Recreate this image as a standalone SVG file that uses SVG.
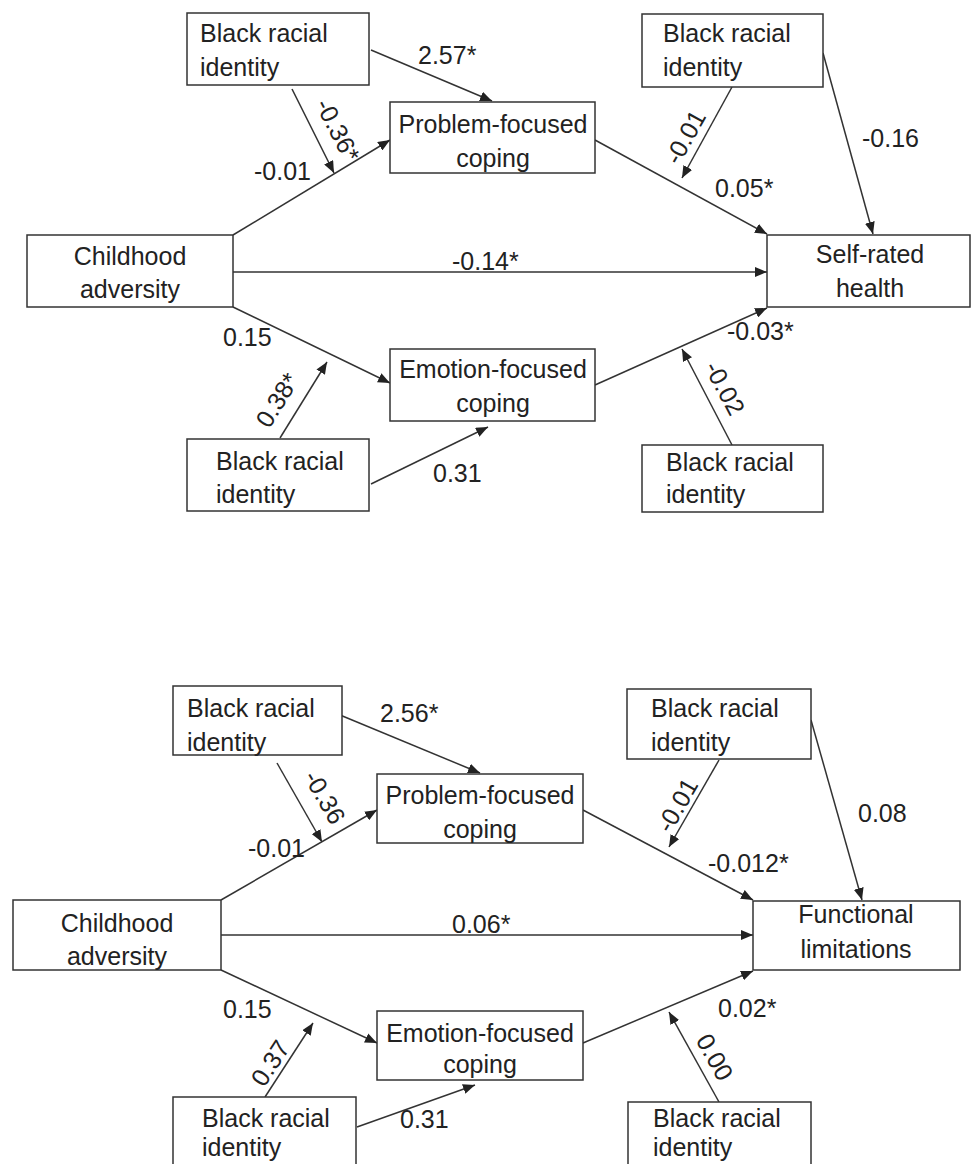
<svg xmlns="http://www.w3.org/2000/svg" width="972" height="1164" viewBox="0 0 972 1164">
<style>
.box{fill:#fff;stroke:#333;stroke-width:1.5}
.t{font-family:"Liberation Sans",Arial,sans-serif;font-size:25px;fill:#222}
.c{text-anchor:middle}
.e{stroke:#333;stroke-width:1.5;fill:none;marker-end:url(#ah)}
</style>
<defs>
<marker id="ah" markerUnits="userSpaceOnUse" markerWidth="12" markerHeight="10" refX="12" refY="5" orient="auto">
<path d="M0,0 L12,5 L0,10 z" fill="#222"/>
</marker>
</defs>
<rect width="972" height="1164" fill="#fff"/>

<g id="connectors">
<!-- top diagram -->
<line class="e" x1="371" y1="50" x2="492" y2="101"/>
<line class="e" x1="292" y1="89" x2="334" y2="173"/>
<line class="e" x1="233" y1="235" x2="390" y2="140"/>
<line class="e" x1="233" y1="272" x2="767" y2="272"/>
<line class="e" x1="595" y1="140" x2="767" y2="234"/>
<line class="e" x1="732" y1="87" x2="682" y2="178"/>
<line class="e" x1="823" y1="53" x2="873" y2="234"/>
<line class="e" x1="233" y1="307" x2="390" y2="383"/>
<line class="e" x1="280" y1="438" x2="327" y2="362"/>
<line class="e" x1="371" y1="484" x2="488" y2="427"/>
<line class="e" x1="595" y1="385" x2="767" y2="308"/>
<line class="e" x1="732" y1="445" x2="682" y2="349"/>
<!-- bottom diagram -->
<line class="e" x1="340" y1="715" x2="480" y2="773"/>
<line class="e" x1="277" y1="763" x2="322" y2="842"/>
<line class="e" x1="221" y1="900" x2="377" y2="810"/>
<line class="e" x1="221" y1="935" x2="753" y2="935"/>
<line class="e" x1="583" y1="810" x2="753" y2="900"/>
<line class="e" x1="719" y1="760" x2="669" y2="847"/>
<line class="e" x1="811" y1="720" x2="862" y2="900"/>
<line class="e" x1="221" y1="970" x2="377" y2="1043"/>
<line class="e" x1="265" y1="1097" x2="313" y2="1023"/>
<line class="e" x1="357" y1="1127" x2="475" y2="1085"/>
<line class="e" x1="583" y1="1043" x2="753" y2="971"/>
<line class="e" x1="719" y1="1102" x2="669" y2="1012"/>
</g>

<g id="labels">
<text class="t" x="418" y="64">2.57*</text>
<text class="t c" x="338" y="139" transform="rotate(63 338 130)">-0.36*</text>
<text class="t" x="254" y="180">-0.01</text>
<text class="t" x="452" y="270">-0.14*</text>
<text class="t" x="715" y="197">0.05*</text>
<text class="t c" x="685" y="146" transform="rotate(-61 685 137)">-0.01</text>
<text class="t" x="862" y="147">-0.16</text>
<text class="t" x="223" y="346">0.15</text>
<text class="t c" x="277" y="409" transform="rotate(-58 277 400)">0.38*</text>
<text class="t" x="433" y="482">0.31</text>
<text class="t" x="727" y="340">-0.03*</text>
<text class="t c" x="725" y="397" transform="rotate(62 725 388)">-0.02</text>

<text class="t" x="380" y="722">2.56*</text>
<text class="t c" x="325" y="806" transform="rotate(60 325 797)">-0.36</text>
<text class="t" x="248" y="857">-0.01</text>
<text class="t" x="452" y="933">0.06*</text>
<text class="t" x="708" y="872">-0.012*</text>
<text class="t c" x="677" y="814" transform="rotate(-60 677 805)">-0.01</text>
<text class="t" x="858" y="822">0.08</text>
<text class="t" x="223" y="1018">0.15</text>
<text class="t c" x="270" y="1072" transform="rotate(-57 270 1063)">0.37</text>
<text class="t" x="400" y="1128">0.31</text>
<text class="t" x="718" y="1017">0.02*</text>
<text class="t c" x="715" y="1066" transform="rotate(61 715 1057)">0.00</text>
</g>

<!-- top diagram nodes -->
<g id="bri-top-left-1">
<rect class="box" x="187" y="13" width="182" height="72"/>
<text class="t" x="200" y="42">Black racial</text>
<text class="t" x="200" y="76">identity</text>
</g>
<g id="pfc-1">
<rect class="box" x="390" y="102" width="205" height="71"/>
<text class="t c" x="493" y="133">Problem-focused</text>
<text class="t c" x="493" y="167">coping</text>
</g>
<g id="bri-top-right-1">
<rect class="box" x="642" y="14" width="181" height="73"/>
<text class="t" x="663" y="42">Black racial</text>
<text class="t" x="663" y="76">identity</text>
</g>
<g id="ca-1">
<rect class="box" x="27" y="235" width="206" height="72"/>
<text class="t c" x="130" y="265">Childhood</text>
<text class="t c" x="130" y="298">adversity</text>
</g>
<g id="srh">
<rect class="box" x="767" y="235" width="203" height="72"/>
<text class="t c" x="870" y="263">Self-rated</text>
<text class="t c" x="870" y="297">health</text>
</g>
<g id="efc-1">
<rect class="box" x="390" y="349" width="205" height="72"/>
<text class="t c" x="493" y="378">Emotion-focused</text>
<text class="t c" x="493" y="412">coping</text>
</g>
<g id="bri-bottom-left-1">
<rect class="box" x="187" y="439" width="182" height="72"/>
<text class="t" x="216" y="470">Black racial</text>
<text class="t" x="216" y="503">identity</text>
</g>
<g id="bri-bottom-right-1">
<rect class="box" x="642" y="445" width="181" height="67"/>
<text class="t" x="666" y="471">Black racial</text>
<text class="t" x="666" y="503">identity</text>
</g>

<!-- bottom diagram nodes -->
<g id="bri-top-left-2">
<rect class="box" x="173" y="686" width="169" height="69"/>
<text class="t" x="187" y="717">Black racial</text>
<text class="t" x="187" y="751">identity</text>
</g>
<g id="pfc-2">
<rect class="box" x="377" y="774" width="206" height="69"/>
<text class="t c" x="480" y="804">Problem-focused</text>
<text class="t c" x="480" y="838">coping</text>
</g>
<g id="bri-top-right-2">
<rect class="box" x="627" y="689" width="184" height="70"/>
<text class="t" x="651" y="717">Black racial</text>
<text class="t" x="651" y="751">identity</text>
</g>
<g id="ca-2">
<rect class="box" x="13" y="900" width="208" height="70"/>
<text class="t c" x="117" y="932">Childhood</text>
<text class="t c" x="117" y="965">adversity</text>
</g>
<g id="fl">
<rect class="box" x="753" y="901" width="207" height="69"/>
<text class="t c" x="856" y="923">Functional</text>
<text class="t c" x="856" y="958">limitations</text>
</g>
<g id="efc-2">
<rect class="box" x="377" y="1011" width="206" height="69"/>
<text class="t c" x="480" y="1042">Emotion-focused</text>
<text class="t c" x="480" y="1073">coping</text>
</g>
<g id="bri-bottom-left-2">
<rect class="box" x="173" y="1097" width="183" height="80"/>
<text class="t" x="202" y="1127">Black racial</text>
<text class="t" x="202" y="1156">identity</text>
</g>
<g id="bri-bottom-right-2">
<rect class="box" x="628" y="1102" width="183" height="80"/>
<text class="t" x="653" y="1127">Black racial</text>
<text class="t" x="653" y="1156">identity</text>
</g>
</svg>
